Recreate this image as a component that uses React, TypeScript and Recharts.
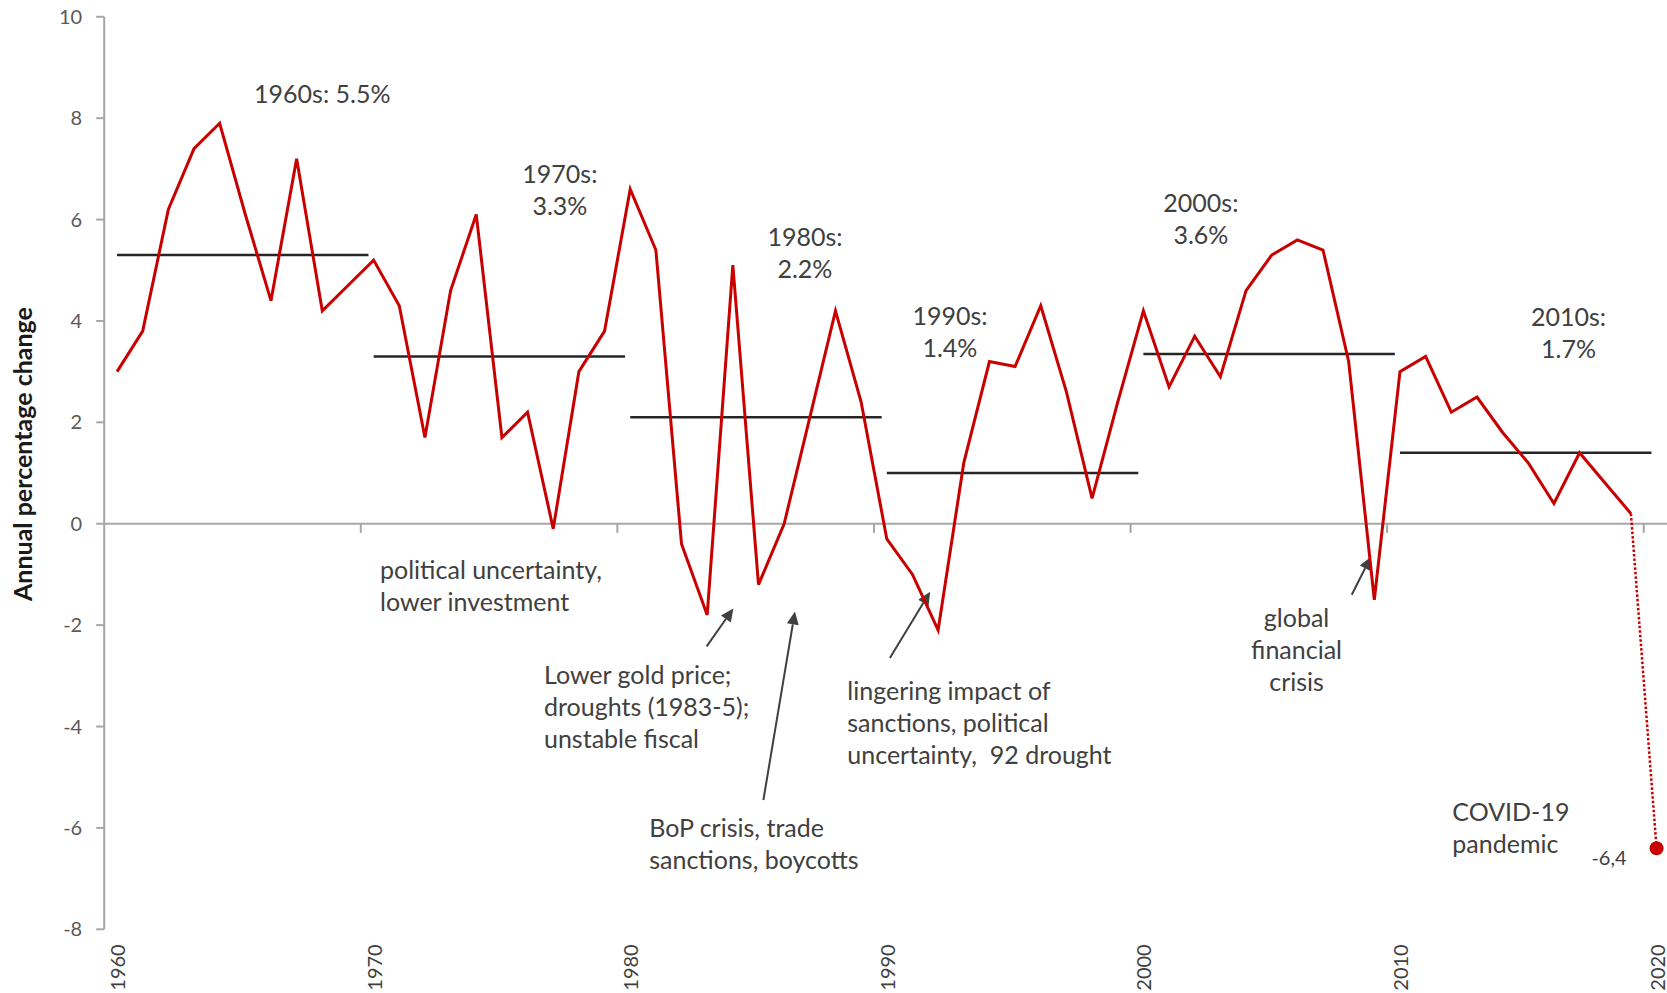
import React from 'react';
import { LineChart, Line, XAxis, YAxis, ReferenceLine, ReferenceDot } from 'recharts';

// Real GDP growth, annual % change
const years = [
  1960, 1961, 1962, 1963, 1964, 1965, 1966, 1967, 1968, 1969,
  1970, 1971, 1972, 1973, 1974, 1975, 1976, 1977, 1978, 1979,
  1980, 1981, 1982, 1983, 1984, 1985, 1986, 1987, 1988, 1989,
  1990, 1991, 1992, 1993, 1994, 1995, 1996, 1997, 1998, 1999,
  2000, 2001, 2002, 2003, 2004, 2005, 2006, 2007, 2008, 2009,
  2010, 2011, 2012, 2013, 2014, 2015, 2016, 2017, 2018, 2019,
  2020,
];
const growth = [
  3.0, 3.8, 6.2, 7.4, 7.9, 6.1, 4.4, 7.2, 4.2, 4.7,
  5.2, 4.3, 1.7, 4.6, 6.1, 1.7, 2.2, -0.1, 3.0, 3.8,
  6.6, 5.4, -0.4, -1.8, 5.1, -1.2, 0.0, 2.1, 4.2, 2.4,
  -0.3, -1.0, -2.1, 1.2, 3.2, 3.1, 4.3, 2.6, 0.5, 2.4,
  4.2, 2.7, 3.7, 2.9, 4.6, 5.3, 5.6, 5.4, 3.2, -1.5,
  3.0, 3.3, 2.2, 2.5, 1.8, 1.2, 0.4, 1.4, 0.8, 0.2,
  null,
];
// projected 2020 (COVID-19)
const covidYears = [2019, 2020];
const covidValues = [0.2, -6.4];
const covidLabel = '-6,4';

const decadeStarts = [1960, 1970, 1980, 1990, 2000, 2010];
const decadeAverages = [5.3, 3.3, 2.1, 1.0, 3.35, 1.4];

const yTicks = [-8, -6, -4, -2, 0, 2, 4, 6, 8, 10];
const xTicks = [1960, 1970, 1980, 1990, 2000, 2010, 2020];
const tickBoundaries = [1969.5, 1979.5, 1989.5, 1999.5, 2009.5, 2019.5];

const data = years.map((year, i) => {
  const c = covidYears.indexOf(year);
  return {
    year,
    growth: growth[i] === null ? undefined : growth[i],
    covid: c >= 0 ? covidValues[c] : undefined,
  };
});

// text notes, placed in data coordinates (year, value of first line)
const notes = [
  { x: 1968.0, y: 8.48, lines: ['1960s: 5.5%'], anchor: 'middle' },
  { x: 1977.26, y: 6.9, lines: ['1970s:', '3.3%'], anchor: 'middle' },
  { x: 1986.81, y: 5.65, lines: ['1980s:', '2.2%'], anchor: 'middle' },
  { x: 1992.46, y: 4.1, lines: ['1990s:', '1.4%'], anchor: 'middle' },
  { x: 2002.24, y: 6.32, lines: ['2000s:', '3.6%'], anchor: 'middle' },
  { x: 2016.57, y: 4.08, lines: ['2010s:', '1.7%'], anchor: 'middle' },
  { x: 1970.25, y: -0.92, lines: ['political uncertainty,', 'lower investment'], anchor: 'start' },
  { x: 1976.64, y: -2.98, lines: ['Lower gold price;', 'droughts (1983-5);', 'unstable fiscal'], anchor: 'start' },
  { x: 1980.74, y: -6.01, lines: ['BoP crisis, trade', 'sanctions, boycotts'], anchor: 'start' },
  { x: 1988.46, y: -3.31, lines: ['lingering impact of', 'sanctions, political', 'uncertainty,  92 drought'], anchor: 'start' },
  { x: 2005.97, y: -1.86, lines: ['global', 'financial', 'crisis'], anchor: 'middle' },
  { x: 2012.04, y: -5.7, lines: ['COVID-19', 'pandemic'], anchor: 'start' },
];

// arrows: tail -> head
const arrows = [
  { from: [1982.98, -2.42], to: [1984.02, -1.67] },
  { from: [1985.19, -5.45], to: [1986.42, -1.73] },
  { from: [1990.12, -2.65], to: [1991.69, -1.34] },
  { from: [2008.12, -1.4], to: [2008.87, -0.65] },
];

const FONT = 'Lato, "Open Sans", sans-serif';
const TEXT = '#404040';
const RED = '#C80000';

if (typeof document !== 'undefined') {
  document.body.style.margin = '0';
  document.body.style.overflow = 'hidden';
}

const Arrow = (p: any) => {
  const { x1, y1, x2, y2 } = p;
  const a = Math.atan2(y2 - y1, x2 - x1);
  const len = 13;
  const half = 6;
  const bx = x2 - len * Math.cos(a);
  const by = y2 - len * Math.sin(a);
  const pts = `${x2},${y2} ${bx - half * Math.sin(a)},${by + half * Math.cos(a)} ${bx + half * Math.sin(a)},${by - half * Math.cos(a)}`;
  return (
    <g>
      <line x1={x1} y1={y1} x2={bx} y2={by} stroke={TEXT} strokeWidth={2} />
      <polygon points={pts} fill={TEXT} />
    </g>
  );
};

const noteShape = (lines: string[], anchor: string) => (p: any) => (
  <text
    x={p.cx}
    y={p.cy}
    textAnchor={anchor}
    fontFamily={FONT}
    fontSize={25}
    fill={TEXT}
    style={{ whiteSpace: 'pre' }}
  >
    {lines.map((l, i) => (
      <tspan key={i} x={p.cx} dy={i === 0 ? '0.35em' : 32}>
        {l}
      </tspan>
    ))}
  </text>
);

const CovidPoint = (p: any) => (
  <g>
    <circle cx={p.cx} cy={p.cy} r={7} fill={RED} />
    <text
      x={p.cx - 30}
      y={p.cy + 9}
      textAnchor="end"
      dominantBaseline="central"
      fontFamily={FONT}
      fontSize={20}
      fill={TEXT}
    >
      {covidLabel}
    </text>
  </g>
);

const YearTick = (p: any) => {
  const { x, y, payload } = p;
  return (
    <text
      transform={`translate(${x},${y + 15}) rotate(-90)`}
      textAnchor="end"
      dominantBaseline="central"
      fontFamily={FONT}
      fontSize={20}
      fill={TEXT}
    >
      {payload.value}
    </text>
  );
};

const YTitle = (p: any) => {
  const vb = p.viewBox;
  const cx = vb.x + 22;
  const cy = vb.y + vb.height / 2 - 19;
  return (
    <text
      transform={`translate(${cx},${cy}) rotate(-90)`}
      textAnchor="middle"
      dominantBaseline="central"
      fontFamily={FONT}
      fontWeight="bold"
      fontSize={25}
      fill="#1a1a1a"
    >
      Annual percentage change
    </text>
  );
};

export default function App() {
  return (
    <div style={{ width: 1667, height: 993, overflow: 'hidden', background: '#fff' }}>
      <LineChart
        width={1680}
        height={993}
        data={data}
        margin={{ top: 16.8, right: 10.6, bottom: 3.7, left: 0 }}
      >
        <XAxis
          type="number"
          dataKey="year"
          domain={[1959.5, 2020.5]}
          ticks={xTicks}
          axisLine={false}
          tickLine={false}
          tickSize={0}
          tickMargin={0}
          height={60}
          tick={<YearTick />}
          interval={0}
        />
        <YAxis
          type="number"
          domain={[-8, 10]}
          ticks={yTicks}
          width={104.2}
          axisLine={{ stroke: '#a6a6a6', strokeWidth: 2 }}
          tickLine={{ stroke: '#a6a6a6', strokeWidth: 2 }}
          tickSize={8}
          tickMargin={14}
          tick={{ fontFamily: FONT, fontSize: 20, fill: '#595959' }}
          interval={0}
          label={{ content: <YTitle /> }}
        />
        <ReferenceLine y={0} stroke="#a6a6a6" strokeWidth={2} />
        {tickBoundaries.map((b) => (
          <ReferenceLine
            key={b}
            segment={[{ x: b, y: 0 }, { x: b, y: -0.18 }]}
            stroke="#a6a6a6"
            strokeWidth={2}
          />
        ))}
        {decadeStarts.map((d, i) => (
          <ReferenceLine
            key={d}
            segment={[{ x: d, y: decadeAverages[i] }, { x: d + 9.8, y: decadeAverages[i] }]}
            stroke="#262626"
            strokeWidth={2.5}
          />
        ))}
        {arrows.map((a, i) => (
          <ReferenceLine
            key={'arrow' + i}
            segment={[{ x: a.from[0], y: a.from[1] }, { x: a.to[0], y: a.to[1] }]}
            shape={Arrow}
          />
        ))}
        {notes.map((n, i) => (
          <ReferenceDot
            key={'note' + i}
            x={n.x}
            y={n.y}
            r={0}
            shape={noteShape(n.lines, n.anchor)}
          />
        ))}
        <Line
          type="linear"
          dataKey="growth"
          stroke={RED}
          strokeWidth={3}
          dot={false}
          isAnimationActive={false}
        />
        <Line
          type="linear"
          dataKey="covid"
          stroke={RED}
          strokeWidth={2.5}
          strokeDasharray="2.5 2"
          dot={false}
          isAnimationActive={false}
        />
        <ReferenceDot
          x={covidYears[1]}
          y={covidValues[1]}
          r={7}
          ifOverflow="visible"
          shape={CovidPoint}
        />
      </LineChart>
    </div>
  );
}
